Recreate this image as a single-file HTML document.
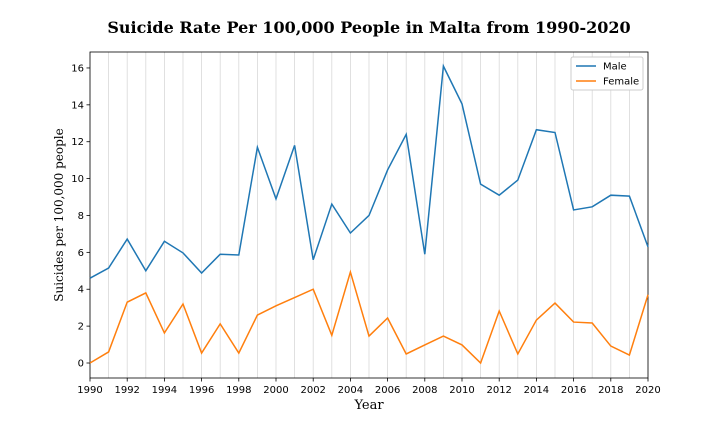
<!DOCTYPE html>
<html><head><meta charset="utf-8"><style>
body{margin:0;background:#fff;width:720px;height:432px;overflow:hidden}
svg text{font-family:"DejaVu Sans","Liberation Sans",sans-serif}
</style></head><body>
<svg id="chart" width="720" height="432">
<rect width="720" height="432" fill="#fff"/>
<text x="369" y="33" text-anchor="middle" font-size="16" font-weight="bold" style="font-family:'DejaVu Serif','Liberation Serif',serif">Suicide Rate Per 100,000 People in Malta from 1990-2020</text>
<g id="grid"></g><g id="axes"></g><g id="series"></g>
<text x="369" y="409" text-anchor="middle" font-size="13" style="font-family:'DejaVu Serif','Liberation Serif',serif">Year</text>
<text transform="translate(63,215) rotate(-90)" text-anchor="middle" font-size="12" style="font-family:'DejaVu Serif','Liberation Serif',serif">Suicides per 100,000 people</text>
<g>
<rect x="571" y="57" width="72" height="33" fill="#fff" stroke="#ccc" rx="2"/>
<line x1="576" y1="66" x2="596" y2="66" stroke="#1f77b4" stroke-width="1.5"/>
<text x="603" y="69.5" font-size="10">Male</text>
<line x1="576" y1="81" x2="596" y2="81" stroke="#ff7f0e" stroke-width="1.5"/>
<text x="603" y="84.5" font-size="10">Female</text>
</g>
</svg>
<script>
const years=[1990,1991,1992,1993,1994,1995,1996,1997,1998,1999,2000,2001,2002,2003,2004,2005,2006,2007,2008,2009,2010,2011,2012,2013,2014,2015,2016,2017,2018,2019,2020];
const male=[4.6,5.15,6.72,5.0,6.6,5.97,4.88,5.9,5.86,11.7,8.9,11.8,5.6,8.62,7.05,8.0,10.47,12.4,5.9,16.1,14.05,9.7,9.1,9.92,12.65,12.5,8.3,8.47,9.1,9.05,6.3];
const female=[0,0.6,3.3,3.8,1.63,3.2,0.54,2.12,0.54,2.6,3.1,3.55,4.0,1.5,4.93,1.46,2.44,0.49,0.98,1.46,0.98,0,2.82,0.49,2.33,3.25,2.22,2.17,0.92,0.43,3.7];
const xTicks=[1990,1992,1994,1996,1998,2000,2002,2004,2006,2008,2010,2012,2014,2016,2018,2020];
const yTicks=[0,2,4,6,8,10,12,14,16];
const L=90,R=648,T=52,B=378,y0=363,ypu=18.44;
const X=v=>L+(v-1990)*(R-L)/30, Y=v=>y0-v*ypu;
const NS="http://www.w3.org/2000/svg";
function mk(tag,attrs,parent,txt){const e=document.createElementNS(NS,tag);for(const k in attrs)e.setAttribute(k,attrs[k]);if(txt!==undefined)e.textContent=txt;parent.appendChild(e);return e;}
const grid=document.getElementById('grid'),axes=document.getElementById('axes'),ser=document.getElementById('series');
for(const yr of years){const g=mk('line',{x1:X(yr),x2:X(yr),y1:T,y2:B,stroke:'#d8d8d8','stroke-width':0.8},grid);

}
const fr=mk('rect',{x:L,y:T,width:R-L,height:B-T,fill:'none',stroke:'#000','stroke-width':0.8},axes);


for(const t of xTicks){mk('line',{x1:X(t),x2:X(t),y1:B,y2:B+3.5,stroke:'#000','stroke-width':0.8},axes);
const tx=mk('text',{x:X(t),y:B+15,'text-anchor':'middle','font-size':10},axes,String(t));

}
for(const t of yTicks){mk('line',{x1:L-3.5,x2:L,y1:Y(t),y2:Y(t),stroke:'#000','stroke-width':0.8},axes);
const tx=mk('text',{x:L-6,y:Y(t)+3.5,'text-anchor':'end','font-size':10},axes,String(t));

}
function line(vals,color,name){const p=mk('polyline',{points:vals.map((v,i)=>X(years[i])+','+Y(v)).join(' '),fill:'none',stroke:color,'stroke-width':1.5},ser);

}
line(male,'#1f77b4','male-line');
line(female,'#ff7f0e','female-line');
</script>
</body></html>
